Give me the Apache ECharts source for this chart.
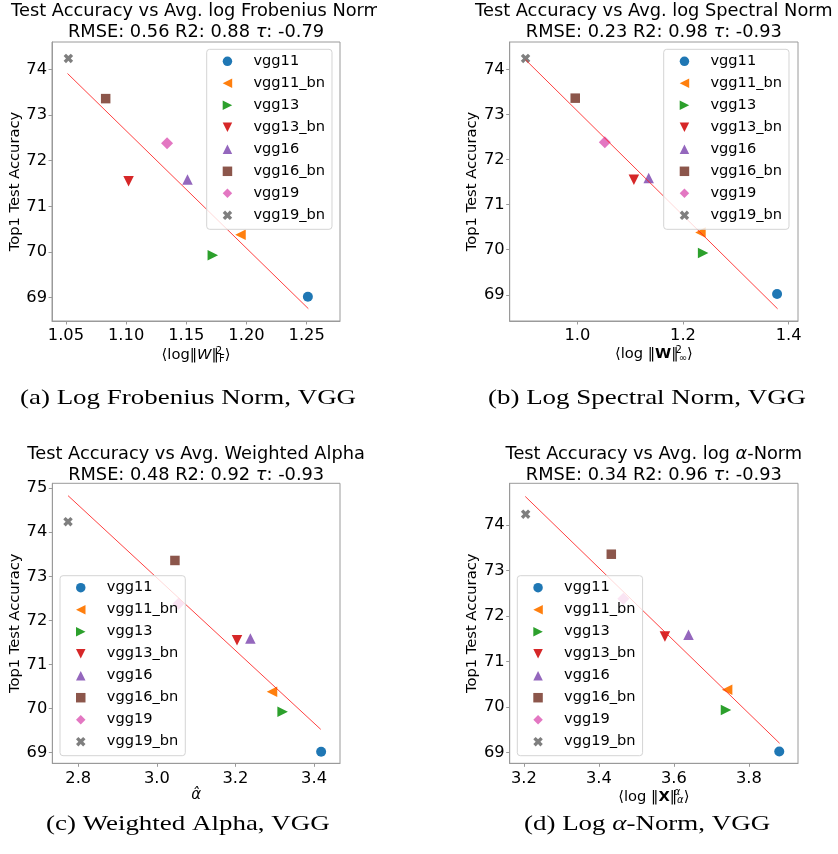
<!DOCTYPE html>
<html><head><meta charset="utf-8">
<script src="https://cdn.jsdelivr.net/npm/echarts@6/dist/echarts.min.js"></script>
<style>html,body{margin:0;padding:0;background:#fff}#c{width:838px;height:854px}</style>
</head><body><div id="c"></div>
<script>
// ---------- data ----------
const models = ['vgg11','vgg11_bn','vgg13','vgg13_bn','vgg16','vgg16_bn','vgg19','vgg19_bn'];
const accuracy = [69.02, 70.38, 69.93, 71.55, 71.59, 73.36, 72.38, 74.24];
const logFrobenius = [1.251, 1.195, 1.172, 1.102, 1.151, 1.083, 1.134, 1.052];
const logSpectral = [1.378, 1.233, 1.238, 1.107, 1.135, 0.996, 1.052, 0.902];
const weightedAlpha = [3.418, 3.293, 3.320, 3.204, 3.238, 3.046, 3.055, 2.774];
const logAlphaNorm = [3.881, 3.742, 3.739, 3.576, 3.639, 3.433, 3.465, 3.2045];
const fitFrobenius = [[1.0513, 73.91], [1.2514, 68.76]];
const fitSpectral = [[0.902, 74.21], [1.379, 68.69]];
const fitWeightedAlpha = [[2.774, 74.83], [3.417, 69.53]];
const fitAlphaNorm = [[3.2035, 74.63], [3.882, 69.20]];
const xTicksFrobenius = [1.05, 1.10, 1.15, 1.20, 1.25];
const xTicksSpectral = [1.0, 1.2, 1.4];
const xTicksWeightedAlpha = [2.8, 3.0, 3.2, 3.4];
const xTicksAlphaNorm = [3.2, 3.4, 3.6, 3.8];
const yTicksTop = [69, 70, 71, 72, 73, 74];
const yTicksWeightedAlpha = [69, 70, 71, 72, 73, 74, 75];
const yTicksAlphaNorm = [69, 70, 71, 72, 73, 74];
const titles = [
  'Test Accuracy vs Avg. log Frobenius Norm\n{n|RMSE: 0.56 R2: 0.88 }{i|τ}{n|: -0.79}',
  'Test Accuracy vs Avg. log Spectral Norm\n{n|RMSE: 0.23 R2: 0.98 }{i|τ}{n|: -0.93}',
  'Test Accuracy vs Avg. Weighted Alpha\n{n|RMSE: 0.48 R2: 0.92 }{i|τ}{n|: -0.93}',
  'Test Accuracy vs Avg. log {i|α}-Norm\n{n|RMSE: 0.34 R2: 0.96 }{i|τ}{n|: -0.93}'
];
const xNames = [
  '⟨log‖{w|W}‖{sup|2}{sub|F}⟩',
  '⟨log ‖{b|W}‖{sup|2}{sub|∞}⟩',
  '{a|α̂}',
  '⟨log ‖{b|X}‖{supi|α}{subi|α}⟩'
];
const yName = 'Top1 Test Accuracy';
const captions = [
  '(a) Log Frobenius Norm, VGG',
  '(b) Log Spectral Norm, VGG',
  '(c) Weighted Alpha, VGG',
  '(d) Log {i|α}-Norm, VGG'
];

// ---------- styles ----------
const FF = '"DejaVu Sans", sans-serif';
const colors = ['#1f77b4','#ff7f0e','#2ca02c','#d62728','#9467bd','#8c564b','#e377c2','#7f7f7f'];
const symbols = [
  'circle',
  'path://M0,5L10,0L10,10Z',
  'path://M10,5L0,0L0,10Z',
  'path://M0,0L10,0L5,10Z',
  'path://M5,0L10,10L0,10Z',
  'path://M0,0L10,0L10,10L0,10Z',
  'path://M5,0L10,5L5,10L0,5Z',
  'path://M0,2.5L2.5,0L5,2.5L7.5,0L10,2.5L7.5,5L10,7.5L7.5,10L5,7.5L2.5,10L0,7.5L2.5,5Z'
];
const symSizes = [10, 10.5, 10.5, 10.5, 10.5, 9.5, 12, 9.5];

const panels = [
  {grid:{left:52, top:42, width:288, height:279}, xr:[1.0384,1.2777], yr:[68.49,74.60], xs:logFrobenius, fit:fitFrobenius, xt:xTicksFrobenius, dec:2, yt:yTicksTop, titleTop:1.5, legend:{left:206.7, top:49.3}, xgap:25},
  {grid:{left:509.7, top:42, width:288.3, height:279}, xr:[0.872,1.4176], yr:[68.42,74.605], xs:logSpectral, fit:fitSpectral, xt:xTicksSpectral, dec:1, yt:yTicksTop, titleTop:1.5, legend:{left:663.7, top:49.3}, xgap:24},
  {grid:{left:52.3, top:483.3, width:287.7, height:280}, xr:[2.734,3.466], yr:[68.76,75.11], xs:weightedAlpha, fit:fitWeightedAlpha, xt:xTicksWeightedAlpha, dec:1, yt:yTicksWeightedAlpha, titleTop:444.5, legend:{left:60, top:575.7}, xgap:20},
  {grid:{left:509.7, top:483.3, width:288.3, height:280}, xr:[3.162,3.931], yr:[68.76,74.92], xs:logAlphaNorm, fit:fitAlphaNorm, xt:xTicksAlphaNorm, dec:1, yt:yTicksAlphaNorm, titleTop:444.5, legend:{left:517.3, top:575.7}, xgap:17}
];

const grids = [], xAxes = [], yAxes = [], series = [], legends = [], titleOpts = [];
const axisGray = '#9a9a9a';
panels.forEach((p, k) => {
  grids.push(Object.assign({show:true, borderColor:axisGray, borderWidth:1, backgroundColor:'transparent', containLabel:false, outerBoundsMode:'none'}, p.grid));
  xAxes.push({
    type:'value', gridIndex:k, min:p.xr[0], max:p.xr[1],
    axisLine:{show:true, onZero:false, lineStyle:{color:axisGray, width:1}},
    axisTick:{show:true, inside:false, length:3.5, lineStyle:{color:axisGray}, customValues:p.xt},
    axisLabel:{show:true, customValues:p.xt, color:'#000', fontFamily:FF, fontSize:16.3, margin:7,
      formatter:(v)=>Number(v).toFixed(p.dec)},
    splitLine:{show:false},
    name:xNames[k], nameLocation:'middle', nameGap:p.xgap,
    nameTextStyle:{color:'#000', fontFamily:FF, fontSize:14.7,
      rich:{
        w:{fontStyle:'italic', fontFamily:FF, fontSize:14.7, color:'#000'},
        b:{fontWeight:'bold', fontFamily:FF, fontSize:14.7, color:'#000'},
        a:{fontStyle:'italic', fontFamily:FF, fontSize:15, color:'#000'},
        sup:{fontFamily:FF, fontSize:10, color:'#000', padding:[0,0,9,0], width:0},
        sub:{fontFamily:FF, fontSize:10, color:'#000', padding:[8,0,0,0]},
        supi:{fontFamily:FF, fontStyle:'italic', fontSize:10, color:'#000', padding:[0,0,9,0], width:0},
        subi:{fontFamily:FF, fontStyle:'italic', fontSize:10, color:'#000', padding:[8,0,0,0]}
      }}
  });
  yAxes.push({
    type:'value', gridIndex:k, min:p.yr[0], max:p.yr[1],
    axisLine:{show:true, onZero:false, lineStyle:{color:axisGray, width:1}},
    axisTick:{show:true, inside:false, length:3.5, lineStyle:{color:axisGray}, customValues:p.yt},
    axisLabel:{show:true, customValues:p.yt, color:'#000', fontFamily:FF, fontSize:16.3, margin:5,
      formatter:(v)=>String(Math.round(v))},
    splitLine:{show:false},
    name:yName, nameLocation:'middle', nameGap:28, nameRotate:90,
    nameTextStyle:{color:'#000', fontFamily:FF, fontSize:14.7}
  });
  models.forEach((m, i) => {
    series.push({
      type:'scatter', name:m, xAxisIndex:k, yAxisIndex:k, silent:true,
      symbol:symbols[i], symbolSize:symSizes[i], symbolKeepAspect:true,
      itemStyle:{color:colors[i], opacity:1},
      data:[[p.xs[i], accuracy[i]]], z:2
    });
  });
  series.push({
    type:'line', name:'fit'+k, xAxisIndex:k, yAxisIndex:k, silent:true,
    symbol:'none', data:p.fit, lineStyle:{color:'#ff2020', width:1, opacity:0.85}, z:3
  });
  legends.push({
    orient:'vertical', left:p.legend.left, top:p.legend.top, itemWidth:42, itemHeight:9.5, itemGap:6,
    padding:[4,7,6,16], borderColor:'#d4d4d4', borderWidth:1, borderRadius:3,
    backgroundColor:'rgba(255,255,255,0.8)', selectedMode:false, z:10,
    textStyle:{fontFamily:FF, fontSize:14.6, color:'#000', lineHeight:16},
    data:models.map((m, i) => ({name:m, icon:symbols[i]}))
  });
  titleOpts.push({
    text:titles[k], left:p.grid.left + p.grid.width/2, top:p.titleTop, textAlign:'center', padding:0,
    textStyle:{fontFamily:FF, fontSize:17.8, lineHeight:20.5, fontWeight:'normal', color:'#000',
      rich:{
        n:{fontFamily:FF, fontSize:17.8, lineHeight:20.5, color:'#000'},
        i:{fontFamily:FF, fontSize:17.8, lineHeight:20.5, fontStyle:'italic', color:'#000'}
      }}
  });
});

const capPos = [[20,398],[488,398],[46,824],[524,824]];
const graphics = [
  {type:'rect', z:100, shape:{x:377, y:0, width:41, height:22}, style:{fill:'#fff'}}
];
captions.forEach((c, k) => {
  graphics.push({
    type:'text', x:capPos[k][0], y:capPos[k][1], scaleX:1.225, z:100,
    style:{text:c, fontFamily:'"Liberation Serif", serif', fontSize:22, fill:'#000',
      align:'left', verticalAlign:'middle',
      rich:{i:{fontFamily:'"Liberation Serif", serif', fontSize:22, fontStyle:'italic', fill:'#000'}}}
  });
});

const chart = echarts.init(document.getElementById('c'), null, {renderer:'canvas'});
chart.setOption({
  animation:false,
  backgroundColor:'#fff',
  title:titleOpts,
  legend:legends,
  grid:grids,
  xAxis:xAxes,
  yAxis:yAxes,
  series:series,
  graphic:graphics,
  tooltip:{show:false}
});
</script>
</body></html>
